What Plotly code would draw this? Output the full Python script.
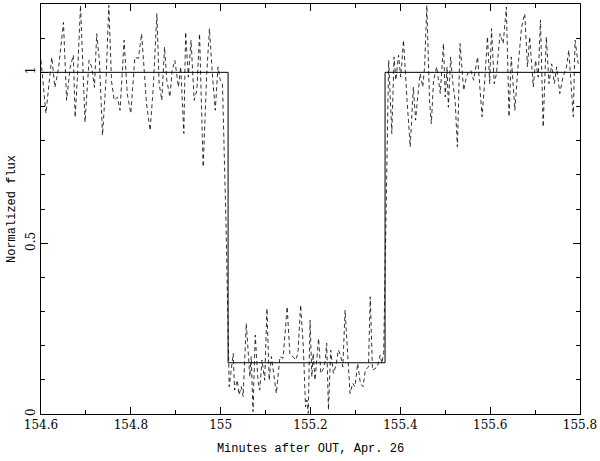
import plotly.graph_objects as go

# light curve (minutes after OUT, normalized flux)
time_pre = [154.600, 154.611, 154.624, 154.631, 154.639, 154.650, 154.657, 154.665, 154.672, 154.676,
            154.681, 154.688, 154.698, 154.707, 154.713, 154.719, 154.724, 154.730, 154.737, 154.745,
            154.751, 154.757, 154.763, 154.770, 154.776, 154.785, 154.792, 154.800, 154.809, 154.817,
            154.824, 154.830, 154.835, 154.843, 154.850, 154.858, 154.863, 154.869, 154.875, 154.880,
            154.887, 154.892, 154.898, 154.906, 154.911, 154.918, 154.922, 154.928, 154.934, 154.941,
            154.947, 154.953, 154.961, 154.969, 154.975, 154.982, 154.988, 154.994, 154.999, 155.004,
            155.012]
flux_pre = [1.035, 0.880, 1.044, 0.956, 1.012, 1.146, 0.918, 1.015, 1.050, 0.868,
            0.985, 1.196, 0.854, 1.035, 1.015, 0.956, 1.113, 1.035, 0.816, 0.985,
            1.196, 0.975, 0.918, 0.927, 0.889, 1.094, 0.937, 0.880, 1.044, 1.041,
            1.113, 0.986, 0.908, 0.830, 0.957, 1.172, 0.967, 0.918, 1.074, 0.977,
            0.928, 1.006, 1.035, 0.957, 1.016, 0.821, 1.118, 0.986, 1.094, 0.918,
            0.947, 1.113, 0.723, 0.996, 1.128, 0.986, 0.889, 1.016, 0.977, 0.967,
            0.550]

time_in = [155.019, 155.028, 155.031, 155.037, 155.041, 155.046, 155.050, 155.057, 155.065, 155.068,
           155.072, 155.077, 155.083, 155.087, 155.092, 155.098, 155.103, 155.108, 155.113, 155.119,
           155.124, 155.132, 155.139, 155.148, 155.154, 155.161, 155.167, 155.172, 155.178, 155.184,
           155.189, 155.192, 155.195, 155.199, 155.203, 155.206, 155.210, 155.218, 155.223, 155.229,
           155.233, 155.236, 155.240, 155.245, 155.251, 155.257, 155.262, 155.267, 155.272, 155.277,
           155.284, 155.288, 155.294, 155.299, 155.305, 155.311, 155.317, 155.322, 155.329, 155.333,
           155.338, 155.344, 155.349, 155.355, 155.359, 155.363]
flux_in = [0.080, 0.177, 0.070, 0.099, 0.056, 0.080, 0.051, 0.265, 0.109, 0.168,
           0.007, 0.231, 0.099, 0.070, 0.158, 0.099, 0.309, 0.099, 0.168, 0.109,
           0.060, 0.168, 0.163, 0.314, 0.177, 0.168, 0.158, 0.177, 0.319, 0.197,
           0.021, 0.041, 0.002, 0.275, 0.109, 0.177, 0.099, 0.221, 0.119, 0.133,
           0.158, 0.207, 0.012, 0.187, 0.119, 0.143, 0.187, 0.172, 0.138, 0.304,
           0.168, 0.060, 0.090, 0.080, 0.148, 0.090, 0.080, 0.128, 0.138, 0.343,
           0.128, 0.133, 0.138, 0.172, 0.148, 0.180]

time_post = [155.374, 155.381, 155.386, 155.390, 155.396, 155.401, 155.407, 155.415, 155.422, 155.429,
             155.434, 155.438, 155.444, 155.450, 155.454, 155.459, 155.465, 155.469, 155.474, 155.481,
             155.489, 155.496, 155.500, 155.504, 155.507, 155.512, 155.517, 155.522, 155.527, 155.533,
             155.541, 155.547, 155.552, 155.557, 155.563, 155.572, 155.582, 155.588, 155.594, 155.599,
             155.603, 155.609, 155.614, 155.622, 155.629, 155.636, 155.642, 155.647, 155.655, 155.662,
             155.670, 155.677, 155.683, 155.688, 155.696, 155.701, 155.707, 155.712, 155.718, 155.725,
             155.731, 155.737, 155.743, 155.748, 155.755, 155.762, 155.770, 155.775, 155.779, 155.785,
             155.789, 155.796]
flux_post = [1.035, 0.821, 1.045, 0.977, 1.050, 0.986, 1.094, 0.918, 0.782, 0.957,
             0.860, 0.918, 0.996, 0.957, 1.016, 1.196, 0.918, 0.850, 0.977, 1.016,
             0.938, 1.084, 0.928, 1.016, 0.898, 1.045, 0.967, 0.918, 0.782, 1.084,
             0.947, 0.986, 1.001, 1.006, 0.977, 1.045, 0.870, 0.977, 1.104, 0.967,
             1.128, 0.967, 0.996, 1.113, 1.084, 1.191, 0.870, 1.045, 0.889, 1.016,
             1.132, 1.172, 1.016, 1.104, 0.957, 1.035, 0.986, 1.153, 0.840, 1.104,
             0.967, 1.025, 0.967, 1.016, 0.938, 0.986, 1.016, 1.065, 0.977, 0.870,
             1.094, 1.025]

# box-shaped occultation model
model_time = [154.6, 155.0165, 155.0165, 155.366, 155.366, 155.8]
model_flux = [1.0, 1.0, 0.15, 0.15, 1.0, 1.0]

fig = go.Figure()

fig.add_trace(
    go.Scatter(
        x=time_pre + time_in + time_post,
        y=flux_pre + flux_in + flux_post,
        mode="lines",
        line=dict(color="black", width=0.8, dash="4px,3px"),
        showlegend=False,
    )
)
fig.add_trace(
    go.Scatter(
        x=model_time,
        y=model_flux,
        mode="lines",
        line=dict(color="black", width=1),
        showlegend=False,
    )
)

axis_common = dict(
    showgrid=False,
    zeroline=False,
    showline=True,
    linecolor="black",
    linewidth=1,
    mirror="allticks",
    ticks="inside",
    ticklen=7,
    tickcolor="black",
    automargin=False,
    tickfont=dict(family="DejaVu Serif", size=12, color="black"),
)

fig.update_xaxes(
    range=[154.6, 155.8],
    tickvals=[154.6, 154.8, 155.0, 155.2, 155.4, 155.6, 155.8],
    ticktext=["154.6", "154.8", "155", "155.2", "155.4", "155.6", "155.8"],
    minor=dict(dtick=0.1, tick0=154.6, ticks="inside", ticklen=4, tickcolor="black"),
    title=dict(text="Minutes after OUT, Apr. 26",
               font=dict(family="Liberation Mono", size=12, color="black"), standoff=12),
    **axis_common,
)
fig.update_yaxes(
    range=[0, 1.2],
    tickvals=[0, 0.5, 1],
    ticktext=["0", "0.5", "1"],
    tickangle=-90,
    minor=dict(dtick=0.1, tick0=0, ticks="inside", ticklen=4, tickcolor="black"),
    title=dict(text="Normalized flux",
               font=dict(family="Liberation Mono", size=12, color="black"), standoff=6),
    **axis_common,
)

fig.update_layout(
    width=600,
    height=461,
    margin=dict(l=41, r=20, t=4, b=47),
    plot_bgcolor="white",
    paper_bgcolor="white",
)

# page body has a default 8px margin; drop it so the figure sits at the window corner
fig.write_html(
    "out.html",
    config={"displayModeBar": False},
    post_script="document.body.style.margin='0';",
)
